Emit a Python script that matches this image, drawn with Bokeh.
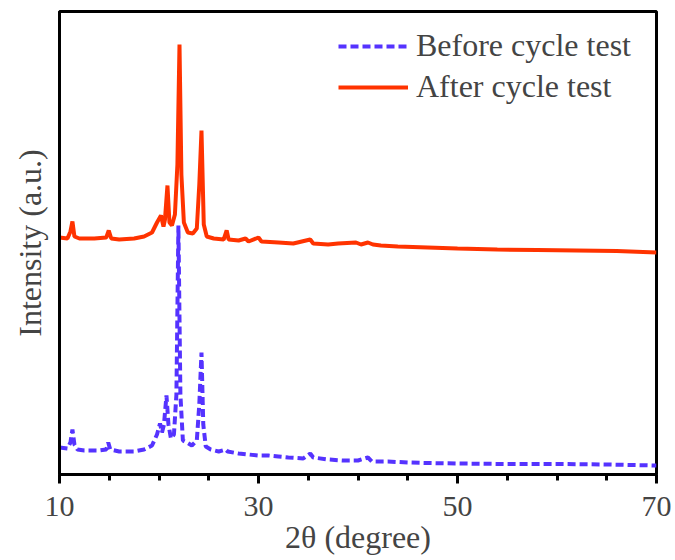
from bokeh.plotting import figure
from bokeh.models import Range1d, FixedTicker, Legend, LegendItem
from bokeh.embed import file_html
from bokeh.resources import INLINE

# 2theta (degree) and intensity (a.u.)
before_x = [10.0, 10.8, 11.1, 11.3, 11.5, 11.8, 12.5, 14.0, 14.7, 14.9, 15.1, 16.0, 17.5, 18.5,
            19.3, 19.8, 20.1, 20.3, 20.5, 20.75, 20.95, 21.2, 21.5, 21.75, 21.95, 22.15, 22.4,
            22.8, 23.3, 23.8, 24.05, 24.27, 24.45, 24.7, 25.2, 26.0, 26.7, 26.9, 28.0, 29.0,
            30.0, 31.0, 32.0, 33.0, 34.5, 35.2, 35.5, 37.0, 38.5, 40.0, 41.0, 41.4, 43.0, 45.0,
            47.0, 50.0, 55.0, 60.0, 65.0, 70.0]
before_y = [27, 26, 32, 45, 30, 25, 24, 24, 25, 32, 25, 23, 23, 25,
            29, 40, 51, 42, 50, 79, 50, 36, 40, 80, 249, 80, 34,
            32, 29, 34, 70, 122, 50, 28, 25, 23, 25, 23, 21, 20,
            19, 19, 18, 17, 16, 21, 17, 15, 14, 14, 17, 13, 13, 12,
            11.5, 11, 10.5, 10.5, 10, 9]

after_x = [10.0, 10.8, 11.1, 11.3, 11.5, 12.0, 13.5, 14.7, 14.95, 15.2, 16.0, 17.5, 18.5, 19.3,
           19.8, 20.2, 20.45, 20.6, 20.85, 21.05, 21.3, 21.6, 21.85, 22.06, 22.25, 22.5, 22.9,
           23.4, 23.8, 24.05, 24.27, 24.5, 24.8, 25.5, 26.5, 26.8, 27.0, 28.0, 28.7, 29.0,
           30.0, 30.3, 32.0, 33.5, 35.2, 35.5, 37.0, 38.0, 39.8, 40.3, 41.0, 41.5, 42.3, 44.0,
           47.0, 50.0, 54.0, 58.0, 62.0, 66.0, 70.0]
after_y = [237, 236, 243, 253, 238, 236, 236, 237, 244, 236, 235, 236, 238, 242,
           252, 259, 248, 255, 289, 252, 249, 260, 310, 430, 300, 252, 242,
           241, 246, 290, 344, 250, 238, 236, 235, 244, 235, 234, 236, 233,
           237, 233, 232, 231, 235, 231, 230, 231, 232, 230, 232, 230, 229, 228,
           227, 226, 225, 224.5, 224, 223.5, 222]

x_ticks = [10, 30, 50, 70]
x_minor = [15, 20, 25, 35, 40, 45, 55, 60, 65]
labels = ["Before cycle test", "After cycle test"]

FONT = "Liberation Serif"
BLUE = "#5533FF"
RED = "#FF3300"

p = figure(width=675, height=560, output_backend="svg", toolbar_location=None,
           x_range=Range1d(10, 70), y_range=Range1d(0, 463),
           min_border_left=59, min_border_top=11, min_border_right=19, min_border_bottom=86)

r_before = p.line(before_x, before_y, line_color=BLUE, line_width=4, line_dash="8 4")
r_after = p.line(after_x, after_y, line_color=RED, line_width=4)

p.grid.visible = False
p.outline_line_color = "black"
p.outline_line_width = 3
p.outline_line_alpha = 1.0
p.background_fill_color = "white"
p.border_fill_color = "white"

xa = p.xaxis[0]
xa.ticker = FixedTicker(ticks=x_ticks, minor_ticks=x_minor)
xa.axis_label = "2θ (degree)"
xa.axis_line_width = 3
xa.major_tick_line_width = 3
xa.minor_tick_line_width = 3
xa.major_tick_out = 9
xa.major_tick_in = 0
xa.minor_tick_out = 6
xa.minor_tick_in = 0
xa.major_label_text_font = FONT
xa.major_label_text_font_size = "30px"
xa.major_label_standoff = 13
xa.axis_label_text_font = FONT
xa.axis_label_text_font_size = "32px"
xa.axis_label_text_font_style = "normal"
xa.axis_label_standoff = 0

ya = p.yaxis[0]
ya.ticker = FixedTicker(ticks=[])
ya.axis_label = "Intensity (a.u.)"
ya.axis_line_width = 3
ya.major_tick_line_color = None
ya.minor_tick_line_color = None
ya.major_label_text_font_size = "0px"
ya.axis_label_text_font = FONT
ya.axis_label_text_font_size = "32px"
ya.axis_label_text_font_style = "normal"
ya.axis_label_standoff = 12

legend = Legend(items=[LegendItem(label=labels[0], renderers=[r_before]),
                       LegendItem(label=labels[1], renderers=[r_after])],
                location=(279, 369))
legend.glyph_width = 70
legend.glyph_height = 30
legend.label_height = 30
legend.label_standoff = 8
legend.spacing = 4
legend.padding = 0
legend.margin = 0
legend.border_line_color = None
legend.background_fill_alpha = 0
legend.label_text_font = FONT
legend.label_text_font_size = "32px"
p.add_layout(legend)

open("out.html", "w").write(file_html(p, INLINE))
